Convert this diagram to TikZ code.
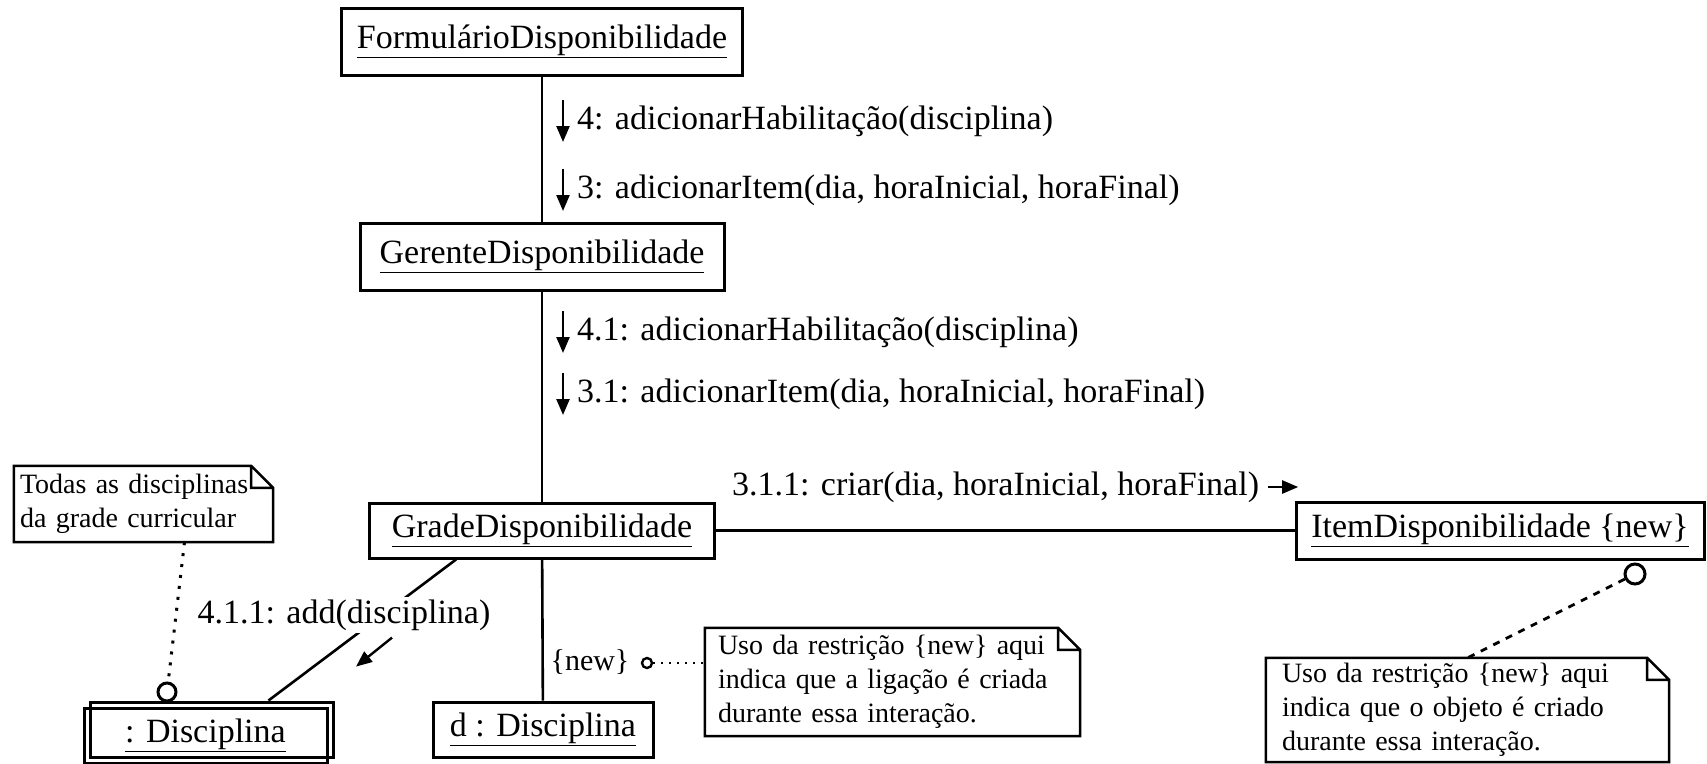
\documentclass[tikz,border=0pt]{standalone}
\usepackage{fontspec}
\setmainfont{Liberation Serif}
\usetikzlibrary{arrows.meta}

\newcommand{\foldbox}[1]{%
  \draw[line width=2.5pt] (#1.north west) -- ([xshift=-22pt]#1.north east) -- ([yshift=-22pt]#1.north east) -- (#1.south east) -- (#1.south west) -- cycle
    ([xshift=-22pt]#1.north east) |- ([yshift=-22pt]#1.north east);}

\begin{document}
\begin{tikzpicture}[x=1pt,y=-1pt,
    obj/.style={draw,rectangle,line width=3pt,minimum height=55pt,inner sep=0pt,font=\fontsize{34}{40}\selectfont},
    msg/.style={anchor=west,inner sep=0pt,font=\fontsize{34}{40}\selectfont},
    note/.style={align=left,inner ysep=0pt,font=\fontsize{28}{34}\selectfont},
    link/.style={line width=2.6pt},
    marr/.style={-{Triangle[length=16pt,width=13pt]},line width=2.4pt},
    hole/.style={circle,draw,line width=3pt,inner sep=0pt,fill=white},
    dotline/.style={line width=3pt,dash pattern=on 3pt off 8pt},
    dashline/.style={line width=2.8pt,dash pattern=on 7pt off 7pt}]

            \useasboundingbox (0,0) rectangle (1707,763);

            % objects
            \node[obj, minimum width=401pt, minimum height=67pt] (1) at (542,41.5) {\underline{FormulárioDisponibilidade}};
            \node[obj, minimum width=364pt, minimum height=67pt] (2) at (542,256.5) {\underline{GerenteDisponibilidade}};
            \node[obj, minimum width=345pt] (3) at (542,530.5) {\underline{GradeDisponibilidade}};
            \node[obj, minimum width=408pt, minimum height=57pt] (4) at (1500,530.5) {\underline{ItemDisponibilidade \{new\}}};
            \node[obj, minimum width=220pt] (5) at (543,729.5) {\underline{d : Disciplina}};
            \node[obj, minimum width=243pt] (6) at (211.5,729.5) {};
            \node[obj, minimum width=243pt] (7) at (205.5,735.5) {\underline{: Disciplina}};

            \draw[link] (1) to (2);
            \draw[link] (2) to (3);
            \draw[link] (3) to (4);
            \draw[link] (3) to (5);
            \draw[link] ([xshift=-86pt]3.south) to ([xshift=57pt]6.north);

            % messages
            \node[msg] (l4) at (577,121) {4: adicionarHabilitação(disciplina)};
            \node[msg] (l3) at (577,190) {3: adicionarItem(dia, horaInicial, horaFinal)};
            \node[msg] (l41) at (577,332) {4.1: adicionarHabilitação(disciplina)};
            \node[msg] (l31) at (577,394) {3.1: adicionarItem(dia, horaInicial, horaFinal)};
            \node[msg] (l311) at (732,487) {3.1.1: criar(dia, horaInicial, horaFinal)};
            \node[msg, anchor=center, fill=white, inner sep=3pt] (l411) at (344,615) {4.1.1: add(disciplina)};

            \draw[marr] ([shift={(-14,-21)}]l4.west) to ([shift={(-14,21)}]l4.west);
            \draw[marr] ([shift={(-14,-21)}]l3.west) to ([shift={(-14,21)}]l3.west);
            \draw[marr] ([shift={(-14,-21)}]l41.west) to ([shift={(-14,21)}]l41.west);
            \draw[marr] ([shift={(-14,-21)}]l31.west) to ([shift={(-14,21)}]l31.west);
            \draw[marr] ([xshift=9pt]l311.east) -- ++(30,0);
            \draw[marr] ([shift={(48,4)}]l411.south) -- ++(-36,29);

            \node[msg, anchor=center, font=\fontsize{30}{36}\selectfont] (lnew) at (590,662) {\{new\}};

            % notes
            \node[note, text width=247pt, inner xsep=6pt, minimum height=76pt] (n1) at (143.5,504) {Todas as disciplinas\\da grade curricular};
            \node[note, text width=349pt, inner xsep=13pt, minimum height=108pt] (n2) at (892.5,682) {Uso da restrição \{new\} aqui\\indica que a ligação é criada\\durante essa interação.};
            \node[note, text width=371pt, inner xsep=16pt, minimum height=104pt] (n3) at (1467.5,710) {Uso da restrição \{new\} aqui\\indica que o objeto é criado\\durante essa interação.};
            \foldbox{n1}
            \foldbox{n2}
            \foldbox{n3}

            \node[hole, minimum size=18pt] (c1) at (167,692) {};
            \node[hole, minimum size=10pt, line width=2.4pt] (c2) at (647,663) {};
            \node[hole, minimum size=20pt] (c3) at (1635,574) {};

            \draw[dotline] ([xshift=41pt]n1.south) to (c1);
            \draw[dotline, line width=2.2pt, dash pattern=on 2pt off 6pt] (c2) to (c2 -| n2.west);
            \draw[dashline] (c3) to (n3.north);
            % \draw[dashline] (4) to (n3);

\end{tikzpicture}
\end{document}
